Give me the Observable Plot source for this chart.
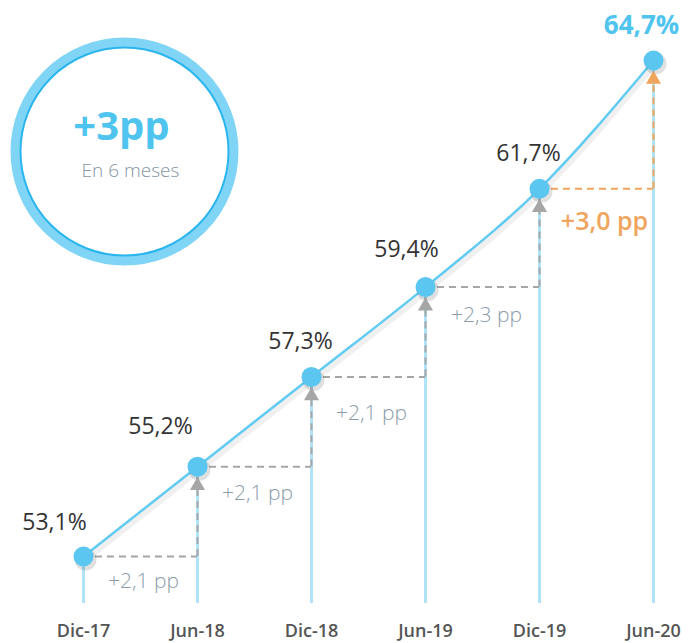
<!DOCTYPE html>
<html>
<head>
<meta charset="utf-8">
<script src="https://cdn.jsdelivr.net/npm/d3@7"></script>
<script src="https://cdn.jsdelivr.net/npm/@observablehq/plot@0.6"></script>
<style>
  html, body { margin: 0; padding: 0; background: #fff; }
  #chart svg { font-family: "Open Sans", "Noto Sans", sans-serif; display: block; }
</style>
</head>
<body>
<div id="chart"></div>
<script>
const dates = ["Dic-17", "Jun-18", "Dic-18", "Jun-19", "Dic-19", "Jun-20"];
const values = [53.1, 55.2, 57.3, 59.4, 61.7, 64.7];
const valueLabels = ["53,1%", "55,2%", "57,3%", "59,4%", "61,7%", "64,7%"];
const deltaLabels = ["+2,1 pp", "+2,1 pp", "+2,1 pp", "+2,3 pp", "+3,0 pp"];
const calloutTitle = "+3pp";
const calloutSubtitle = "En 6 meses";

const rows = dates.map((d, i) => ({date: d, value: values[i], label: valueLabels[i]}));
const steps = deltaLabels.map((l, i) => ({
  from: dates[i], to: dates[i + 1], v0: values[i], v1: values[i + 1], label: l
}));
const graySteps = steps.slice(0, steps.length - 1);
const lastStep = steps.slice(steps.length - 1);

// label placement (layout only)
const valueOffsets = [[-29, -34], [-37, -40], [-11, -35], [-19, -37], [-11, -35], [-12, -35]];
const deltaOffsets = [[60, 25], [60, 27], [60, 36], [61, 28], [65, 33]];

const GRAY = "#a6a6a6";
const ORANGE = "#f0a55f";
const BLUE = "#5bc7f0";
const DASH = "7,5";

const valueTextMarks = rows.map((r, i) => Plot.text([r], {
  x: "date", y: "value", text: "label",
  dx: valueOffsets[i][0], dy: valueOffsets[i][1],
  fontSize: i === rows.length - 1 ? 26 : 23,
  fontWeight: i === rows.length - 1 ? "bold" : "normal",
  fill: i === rows.length - 1 ? "#4fc4ef" : "#333333"
}));
const deltaTextMarks = steps.map((s, i) => {
  const last = i === steps.length - 1;
  return Plot.text([s], {
    x: "from", y: "v0", text: "label",
    dx: deltaOffsets[i][0], dy: deltaOffsets[i][1],
    fontSize: last ? 25 : 21,
    fontWeight: last ? 600 : 300,
    fill: last ? ORANGE : "#8a9cab"
  });
});

const plot = Plot.plot({
  width: 689,
  height: 643,
  marginLeft: 81,
  marginRight: 34,
  marginTop: 60,
  marginBottom: 40,
  x: {type: "point", domain: dates, padding: 0},
  y: {domain: [52, 64.7], axis: null},
  style: {fontFamily: "'Open Sans', 'Noto Sans', sans-serif", background: "#fff"},
  marks: [
    // vertical light blue guides
    Plot.ruleX(rows, {x: "date", y1: 52, y2: "value", stroke: "#b0e3f8", strokeWidth: 3}),
    // gray dashed steps
    Plot.ruleY(graySteps, {y: "v0", x1: "from", x2: "to", stroke: GRAY, strokeWidth: 2, strokeDasharray: DASH}),
    Plot.ruleX(graySteps, {x: "to", y1: "v0", y2: "v1", stroke: GRAY, strokeWidth: 2, strokeDasharray: DASH}),
    // orange dashed step
    Plot.ruleY(lastStep, {y: "v0", x1: "from", x2: "to", stroke: ORANGE, strokeWidth: 2, strokeDasharray: DASH}),
    Plot.ruleX(lastStep, {x: "to", y1: "v0", y2: "v1", stroke: ORANGE, strokeWidth: 2, strokeDasharray: DASH}),
    // line shadow + line
    Plot.line(rows, {x: "date", y: "value", stroke: "#000", strokeOpacity: 0.06, strokeWidth: 6, curve: "monotone-x", dx: 1, dy: 4}),
    Plot.line(rows, {x: "date", y: "value", stroke: "#62cbf1", strokeWidth: 2.5, curve: "monotone-x"}),
    // point shadows + points
    Plot.dot(rows, {x: "date", y: "value", r: 11, fill: "#000", fillOpacity: 0.12, stroke: "none", dx: 2, dy: 3}),
    Plot.dot(rows, {x: "date", y: "value", r: 10, fill: BLUE, stroke: "none"}),
    // arrow heads
    Plot.dot(graySteps, {x: "to", y: "v1", symbol: "triangle", r: 5.6, fill: GRAY, stroke: "none", dy: 19}),
    Plot.dot(lastStep, {x: "to", y: "v1", symbol: "triangle", r: 5.6, fill: ORANGE, stroke: "none", dy: 19}),
    // value labels
    ...valueTextMarks,
    // delta labels
    ...deltaTextMarks,
    // x axis
    Plot.axisX({tickSize: 0, tickPadding: 21, fontSize: 18, fontWeight: 600, fill: "#555555", label: null}),
    // callout circle
    Plot.dot([calloutTitle], {frameAnchor: "top-left", dx: 43, dy: 91, r: 109, fill: "white", stroke: "#80d4f6", strokeWidth: 10}),
    Plot.dot([calloutTitle], {frameAnchor: "top-left", dx: 43, dy: 91, r: 104, fill: "none", stroke: "#2bb5ee", strokeWidth: 2}),
    Plot.text([calloutTitle], {frameAnchor: "top-left", textAnchor: "middle", lineAnchor: "middle", dx: 40, dy: 67, text: d => d, fontSize: 40, fontWeight: "bold", fill: "#4fc4ef"}),
    Plot.text([calloutSubtitle], {frameAnchor: "top-left", textAnchor: "middle", lineAnchor: "middle", dx: 49, dy: 110, text: d => d, fontSize: 19, fontWeight: 300, fill: "#8596a4"})
  ]
});

document.getElementById("chart").appendChild(plot);
</script>
</body>
</html>
